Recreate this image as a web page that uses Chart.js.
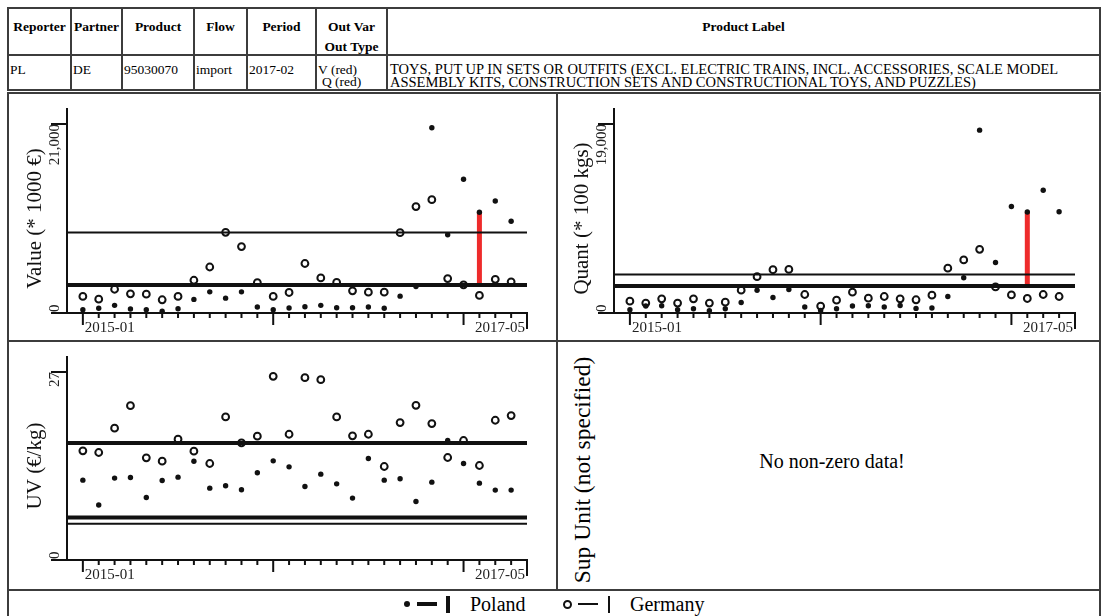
<!DOCTYPE html>
<html><head><meta charset="utf-8">
<script src="https://cdn.jsdelivr.net/npm/chart.js@4.4.1/dist/chart.umd.min.js"></script>
<style>
html,body{margin:0;padding:0;background:#fff;}
body{width:1103px;height:616px;position:relative;overflow:hidden;font-family:"Liberation Serif","Times New Roman",serif;color:#000;}
.a{position:absolute;white-space:nowrap;}
.hd{font-weight:bold;font-size:13.5px;line-height:16px;height:16px;transform:translateX(-50%);}
.td{font-size:13.5px;line-height:16px;height:16px;}
.tl{font-size:14.5px;line-height:16px;height:16px;}
.ln{position:absolute;background:#3c3c3c;}
canvas{position:absolute;}
</style></head><body>

<div class="a hd" style="left:39.5px;top:19px">Reporter</div>
<div class="a hd" style="left:96.5px;top:19px">Partner</div>
<div class="a hd" style="left:158px;top:19px">Product</div>
<div class="a hd" style="left:220.5px;top:19px">Flow</div>
<div class="a hd" style="left:281.5px;top:19px">Period</div>
<div class="a hd" style="left:351.5px;top:19px">Out Var</div>
<div class="a hd" style="left:351.5px;top:39px">Out Type</div>
<div class="a hd" style="left:743.5px;top:19px">Product Label</div>

<div class="a td" style="left:10px;top:61.5px">PL</div>
<div class="a td" style="left:73px;top:61.5px">DE</div>
<div class="a td" style="left:124px;top:61.5px">95030070</div>
<div class="a td" style="left:196px;top:61.5px">import</div>
<div class="a td" style="left:249px;top:61.5px">2017-02</div>
<div class="a td" style="left:318px;top:61.5px">V (red)</div>
<div class="a td" style="left:322px;top:74px">Q (red)</div>
<div class="a tl" style="left:390px;top:61px">TOYS, PUT UP IN SETS OR OUTFITS (EXCL. ELECTRIC TRAINS, INCL. ACCESSORIES, SCALE MODEL</div>
<div class="a tl" style="left:390px;top:74px">ASSEMBLY KITS, CONSTRUCTION SETS AND CONSTRUCTIONAL TOYS, AND PUZZLES)</div>

<canvas id="cValue" width="549" height="247" style="left:8px;top:94px"></canvas>
<canvas id="cQuant" width="543" height="247" style="left:557px;top:94px"></canvas>
<canvas id="cUV" width="549" height="249" style="left:8px;top:341px"></canvas>

<div class="a" style="left:582px;top:470px;font-size:23.5px;line-height:26px;transform:translate(-50%,-50%) rotate(-90deg);">Sup Unit (not specified)</div>
<div class="a" style="left:832px;top:449px;font-size:20px;line-height:24px;transform:translateX(-50%);">No non-zero data!</div>

<!-- legend -->
<div class="a" style="left:404px;top:601px;width:6px;height:6px;border-radius:50%;background:#111"></div>
<div class="a" style="left:417px;top:602px;width:20px;height:4px;background:#111"></div>
<div class="a" style="left:446px;top:596px;width:4px;height:17px;background:#111"></div>
<div class="a" style="left:470px;top:592px;font-size:20px;line-height:24px">Poland</div>
<div class="a" style="left:562.5px;top:599.5px;width:9px;height:9px;box-sizing:border-box;border:2px solid #111;border-radius:50%"></div>
<div class="a" style="left:578px;top:603px;width:20px;height:2px;background:#111"></div>
<div class="a" style="left:608px;top:596px;width:2px;height:17px;background:#111"></div>
<div class="a" style="left:630px;top:592px;font-size:20px;line-height:24px">Germany</div>

<div id="frame"></div>

<script>
// ---------- data ----------
const months = ["2015-01","2015-02","2015-03","2015-04","2015-05","2015-06","2015-07","2015-08","2015-09","2015-10","2015-11","2015-12",
                "2016-01","2016-02","2016-03","2016-04","2016-05","2016-06","2016-07","2016-08","2016-09","2016-10","2016-11","2016-12",
                "2017-01","2017-02","2017-03","2017-04"];
const axisEndMonth = "2017-05";
const xTickLabels = ["2015-01", "2017-05"];
const flagMonth = "2017-02";

const valuePL = [370,520,850,440,370,190,480,1510,2350,1650,2350,660,370,550,700,850,590,590,660,520,1870,2940,20590,8700,14860,11200,12440,10200];
const valueDE = [1840,1540,2640,2130,2090,1470,1840,3640,5110,8960,7380,3380,1840,2280,5500,3900,3410,2460,2310,2310,8920,11820,12590,3820,3130,1950,3740,3460];
const valueLinesPL = [3100];
const valueLinesDE = [8940];

const quantPL = [330,700,730,330,430,230,430,1060,2290,1560,2360,600,260,430,700,730,600,760,460,500,1660,3550,18380,5070,10710,10150,12340,10180];
const quantDE = [1190,1000,1420,1000,1420,1000,1090,2290,3650,4350,4380,1860,700,1290,2090,1490,1660,1430,1330,1790,4510,5340,6400,2620,1820,1460,1860,1660];
const quantLinesPL = [2710];
const quantLinesDE = [3870];

const uvPL = [11.47,7.89,11.76,11.85,8.98,11.42,11.9,14.19,10.32,10.66,10.08,12.52,14.24,13.38,10.56,12.33,10.94,8.89,14.58,11.47,11.66,8.41,11.18,17.16,13.86,11.04,10.04,10.04];
const uvDE = [15.68,15.44,18.93,22.17,14.67,14.19,17.35,15.63,13.86,20.55,16.82,17.78,26.38,18.06,26.19,25.9,20.55,17.83,18.06,13.43,19.74,22.22,19.59,14.72,17.16,13.57,20.07,20.74];
const uvLinesPL = [16.82, 6.12];
const uvLinesDE = [16.95, 5.21];

const yTickTop = {value: 21000, quant: 19000, uv: 27};
const yTitles = {value: "Value (* 1000 €)", quant: "Quant (* 100 kgs)", uv: "UV (€/kg)"};

// ---------- frame lines ----------
const frame = document.getElementById('frame');
function ln(x, y, w, h){ const d=document.createElement('div'); d.className='ln'; d.style.left=x+'px'; d.style.top=y+'px'; d.style.width=w+'px'; d.style.height=h+'px'; frame.appendChild(d); }
ln(7,7,1094,2); ln(7,54,1094,2); ln(7,89,1094,1.5);
[7,70,121,193,246,315,386,1099].forEach(x=>ln(x,7,2,83));
ln(7,92,1094,2);
ln(7,92,2,524); ln(1099,92,2,524); ln(556,92,2,498);
ln(7,340,1094,2); ln(7,589,1094,2);

// ---------- axes plugin ----------
const INK = '#111';
const rAxes = {
  id: 'rAxes',
  afterDraw(chart, args, o) {
    const ctx = chart.ctx, xs = chart.scales.x, ys = chart.scales.y;
    const xL = xs.getPixelForValue(xs.min), xR = xs.getPixelForValue(xs.max);
    const yB = ys.getPixelForValue(0), yT = ys.getPixelForValue(o.top);
    ctx.save();
    ctx.strokeStyle = INK; ctx.fillStyle = INK; ctx.lineWidth = 2; ctx.lineCap = 'butt';
    ctx.beginPath();
    ctx.moveTo(xL, yT - 16); ctx.lineTo(xL, yB + 1);
    ctx.moveTo(xL - 16, yB); ctx.lineTo(xR + 1, yB);
    ctx.moveTo(xL - 16, yT); ctx.lineTo(xL, yT);
    months.forEach((m, i) => {
      const px = xs.getPixelForValue(i);
      const len = m.endsWith('-01') ? 12 : 5;
      ctx.moveTo(px, yB); ctx.lineTo(px, yB + len);
    });
    ctx.moveTo(xR, yB); ctx.lineTo(xR, yB + 16);
    ctx.stroke();
    ctx.font = '15px "Liberation Serif", "Times New Roman", serif';
    ctx.fillStyle = '#222';
    ctx.textBaseline = 'middle';
    ctx.textAlign = 'left';
    ctx.fillText(xTickLabels[0], xs.getPixelForValue(months.indexOf(xTickLabels[0])) + 2, yB + 15);
    ctx.textAlign = 'right';
    ctx.fillText(xTickLabels[1], xR - 2, yB + 15);
    // y tick labels (rotated)
    ctx.save(); ctx.translate(xL - 12, yB); ctx.rotate(-Math.PI/2);
    ctx.textAlign = 'left'; ctx.fillText('0', 1, 0); ctx.restore();
    ctx.save(); ctx.translate(xL - 12, yT); ctx.rotate(-Math.PI/2);
    ctx.textAlign = 'right'; ctx.fillText(o.top.toLocaleString('en-US'), 0, 0); ctx.restore();
    // title
    ctx.save(); ctx.translate(xL - 32, (yT + yB) / 2); ctx.rotate(-Math.PI/2);
    ctx.font = '21px "Liberation Serif", "Times New Roman", serif';
    ctx.fillStyle = '#111'; ctx.textAlign = 'center';
    ctx.fillText(o.title, 0, 0); ctx.restore();
    ctx.restore();
  }
};

function pts(arr){ return arr.map((v, i) => ({x: i, y: v})); }
function hline(v, w, order){ return {data: [{x: -1, y: v}, {x: months.length, y: v}], showLine: true, borderColor: INK, borderWidth: w, pointRadius: 0, clip: false, order: order}; }

function makeChart(id, key, pl, de, linesPL, linesDE, flag, pad) {
  const ds = [];
  linesPL.forEach(v => ds.push(hline(v, 4, 0)));
  linesDE.forEach(v => ds.push(hline(v, 2, 0)));
  ds.push({data: pts(pl), pointRadius: 2.7, pointBackgroundColor: INK, pointBorderWidth: 0, clip: false, order: 1});
  if (flag) {
    const fi = months.indexOf(flagMonth);
    ds.push({data: [{x: fi, y: pl[fi]}, {x: fi, y: linesPL[0]}], showLine: true, borderColor: '#ee2b2b', borderWidth: 5, pointRadius: 0, clip: false, order: 2});
  }
  ds.push({data: pts(de), pointRadius: 3.4, pointBackgroundColor: '#fff', pointBorderColor: INK, pointBorderWidth: 2, clip: false, order: 3});
  new Chart(document.getElementById(id), {
    type: 'scatter',
    data: {datasets: ds},
    options: {
      responsive: false, animation: false, devicePixelRatio: 1, events: [],
      layout: {padding: pad},
      plugins: {legend: {display: false}, tooltip: {enabled: false}, rAxes: {top: yTickTop[key], title: yTitles[key]}},
      scales: {
        x: {type: 'linear', min: -1, max: months.length, display: false},
        y: {type: 'linear', min: 0, max: yTickTop[key], display: false}
      }
    },
    plugins: [rAxes]
  });
}

makeChart('cValue', 'value', valuePL, valueDE, valueLinesPL, valueLinesDE, true, {left: 59, right: 30, top: 30, bottom: 28});
makeChart('cQuant', 'quant', quantPL, quantDE, quantLinesPL, quantLinesDE, true, {left: 57, right: 25, top: 30, bottom: 28});
makeChart('cUV', 'uv', uvPL, uvDE, uvLinesPL, uvLinesDE, false, {left: 59, right: 30, top: 31, bottom: 30});
</script>
</body></html>
